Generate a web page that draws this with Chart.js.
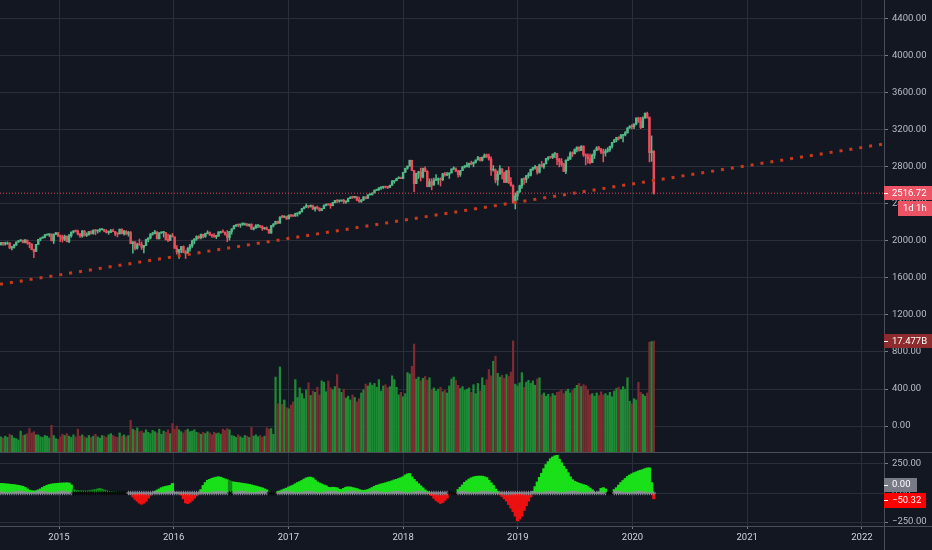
<!DOCTYPE html>
<html>
<head>
<meta charset="utf-8">
<title>Weekly index chart</title>
<script src="https://cdn.jsdelivr.net/npm/chart.js@4.4.1/dist/chart.umd.min.js"></script>
<style>
  html, body { margin: 0; padding: 0; background: #131722; overflow: hidden; }
  #wrap { position: relative; width: 932px; height: 550px; }
  #main { position: absolute; left: 0; top: 0; }
  #osc { position: absolute; left: 0; top: 452px; }
</style>
</head>
<body>
<div id="wrap">
  <canvas id="main" width="932" height="452"></canvas>
  <canvas id="osc" width="932" height="98"></canvas>
</div>
<script>
"use strict";

// weekly candles, the first one is the week of 30 June 2014
const first_week = [2014, 5, 30];
const first_open = 1960;

const closes = [
  // 2014
  1985,1968,1978,1978,1925,1931,1955,1988,2003,2008, 1985,2010,1982,1967,1906,1886,1964,2018,2031,2039,
  2064,2067,2075,2002,2070,2088,2058,
  // 2015
  2044,2019,2051,1995,2055,2097,2110,2104,2071,2053, 2108,2061,2067,2102,2081,2117,2108,2116,2122,2126,
  2107,2092,2094,2110,2101,2077,2076,2127,2079,2104, 2078,2092,1971,1989,1921,1961,1958,1931,1951,2015,
  2033,2075,2079,2099,2023,2089,2090,2092,2012,2006, 2061,2044,
  // 2016
  1922,1880,1907,1940,1880,1865,1918,1948,2000,2022, 2050,2035,2073,2048,2081,2092,2065,2057,2047,2052,
  2099,2099,2096,2071,2037,2103,2130,2162,2175,2173, 2183,2184,2184,2169,2180,2128,2139,2165,2168,2153,
  2133,2141,2126,2085,2164,2182,2213,2192,2260,2258, 2263,2239,
  // 2017
  2277,2275,2271,2295,2297,2316,2351,2367,2383,2373, 2378,2344,2363,2356,2329,2349,2384,2399,2391,2382,
  2416,2439,2432,2433,2438,2423,2425,2459,2473,2472, 2476,2441,2426,2443,2477,2461,2500,2502,2519,2549,
  2553,2575,2581,2587,2582,2579,2602,2642,2652,2675, 2683,2674,
  // 2018
  2743,2786,2810,2873,2762,2620,2732,2747,2691,2786, 2752,2588,2641,2604,2656,2670,2670,2663,2728,2713,
  2721,2735,2779,2780,2755,2718,2760,2801,2802,2819, 2840,2833,2850,2875,2902,2872,2905,2930,2914,2886,
  2767,2768,2659,2723,2781,2736,2633,2760,2633,2600, 2417,2486,
  // 2019
  2532,2596,2671,2665,2707,2708,2776,2793,2804,2743, 2822,2801,2834,2893,2907,2905,2940,2946,2881,2860,
  2826,2752,2873,2887,2950,2942,2990,3014,2977,3026, 2932,2919,2889,2847,2926,2979,3007,2992,2962,2952,
  2970,2986,3023,3067,3093,3120,3110,3141,3146,3169, 3221,3240,
  // 2020
  3235,3265,3330,3295,3226,3328,3380,3338,2954,2972, 2516.72
];

const highs = [
  1986,1984,1988,1991,1984,1943,1964,1991,2005,2012, 2010,2019,2009,1986,1971,1912,1965,2018,2034,2046,
  2071,2075,2079,2076,2077,2094,2093,
  2064,2064,2064,2057,2072,2097,2110,2119,2117,2083, 2114,2114,2089,2102,2111,2120,2126,2118,2134,2134,
  2127,2121,2109,2126,2130,2086,2088,2129,2132,2114, 2113,2104,2103,1993,1993,1976,2021,1990,1952,2020,
  2034,2080,2094,2116,2099,2089,2094,2104,2093,2076, 2067,2082,
  2044,1951,1908,1940,1947,1896,1930,1963,2009,2025, 2056,2057,2075,2073,2084,2111,2099,2075,2081,2062,
  2100,2106,2120,2096,2113,2105,2132,2169,2178,2177, 2183,2194,2193,2188,2184,2187,2151,2176,2176,2169,
  2164,2148,2152,2127,2170,2189,2214,2214,2260,2278, 2273,2268,
  2283,2280,2279,2301,2300,2319,2352,2368,2401,2383, 2390,2387,2370,2378,2358,2349,2391,2400,2403,2406,
  2418,2440,2446,2441,2442,2450,2432,2464,2478,2484, 2480,2480,2474,2448,2480,2473,2500,2509,2520,2552,
  2556,2576,2582,2588,2592,2591,2605,2657,2653,2679, 2695,2692,
  2743,2787,2810,2873,2870,2763,2732,2754,2789,2789, 2802,2761,2672,2674,2680,2718,2682,2682,2732,2742,
  2742,2737,2779,2801,2791,2764,2763,2804,2816,2848, 2842,2863,2855,2877,2916,2903,2908,2941,2940,2939,
  2909,2816,2778,2756,2815,2775,2746,2760,2800,2685, 2607,2520,
  2539,2604,2675,2682,2708,2738,2776,2795,2817,2804, 2831,2860,2836,2894,2911,2910,2940,2955,2946,2893,
  2892,2841,2876,2911,2964,2964,2996,3017,3017,3028, 3028,2943,2941,2939,2940,2985,3020,3022,3002,2993,
  2993,3008,3027,3067,3098,3121,3127,3154,3147,3183, 3226,3247,
  3258,3267,3330,3338,3337,3341,3385,3393,3340,3136, 2975
];

const lows = [
  1955,1952,1955,1965,1916,1904,1921,1952,1987,1995, 1979,1978,1964,1926,1905,1821,1886,1960,2001,2030,
  2033,2062,2049,2002,1972,2069,2046,
  1992,1988,2004,1989,1981,2041,2085,2097,2065,2039, 2040,2052,2048,2064,2073,2073,2067,2085,2097,2117,
  2099,2085,2072,2091,2100,2056,2044,2076,2077,2063, 2067,2052,1970,1867,1903,1911,1953,1908,1872,1950,
  1990,2022,2063,2076,2022,2022,2080,2042,2011,1993, 2006,2043,
  1918,1857,1812,1872,1872,1810,1865,1891,1931,1969, 2008,2022,2022,2034,2039,2076,2060,2039,2039,2025,
  2052,2085,2092,2062,1992,2009,2074,2131,2157,2155, 2147,2168,2175,2160,2157,2127,2119,2138,2145,2143,
  2114,2125,2120,2084,2084,2151,2183,2187,2192,2248, 2252,2233,
  2240,2260,2262,2266,2268,2289,2311,2347,2361,2357, 2365,2342,2322,2344,2322,2329,2349,2378,2388,2353,
  2380,2412,2415,2419,2428,2405,2407,2422,2458,2460, 2464,2437,2418,2417,2437,2454,2461,2496,2496,2520,
  2545,2547,2557,2566,2573,2566,2577,2601,2624,2650, 2676,2673,
  2683,2739,2776,2808,2759,2533,2620,2675,2648,2682, 2749,2585,2585,2553,2604,2656,2612,2594,2652,2701,
  2707,2676,2735,2770,2749,2691,2698,2760,2789,2801, 2795,2824,2802,2842,2876,2864,2864,2900,2903,2874,
  2710,2755,2628,2603,2722,2671,2631,2633,2621,2593, 2409,2346,
  2443,2524,2569,2612,2631,2681,2702,2764,2775,2722, 2734,2800,2785,2843,2874,2894,2891,2900,2826,2801,
  2805,2750,2729,2869,2880,2912,2943,2963,2972,2981, 2914,2822,2840,2834,2853,2891,2980,2982,2945,2855,
  2917,2960,2968,3002,3066,3071,3091,3111,3070,3135, 3166,3219,
  3212,3214,3255,3281,3214,3225,3327,3328,2855,2860, 2505
];

// volume in billions
const volumes = [
  2.4,2.2,2.5,2.3,2.8,2.6,2.2,2.1,1.9,3.3, 2.6,2.7,2.9,3.7,3.0,3.2,2.7,2.7,2.4,2.3,
  2.6,2.5,2.2,4.2,2.6,2.1,2.0,2.4,2.8,2.6, 2.9,2.5,2.3,2.7,2.4,3.6,2.5,2.7,2.4,2.2,
  2.6,2.3,2.5,2.8,2.4,2.2,2.6,2.5,2.3,2.7, 2.9,2.6,2.4,2.3,3.0,2.5,2.7,2.4,2.6,5.0,
  3.6,3.4,3.8,3.2,3.3,3.0,3.5,3.1,2.9,3.4, 3.2,3.0,3.6,2.8,3.3,3.1,3.5,2.9,4.5,3.6,
  4.1,3.5,3.2,3.0,3.4,3.6,3.2,3.3,3.5,3.1, 3.0,2.8,3.1,2.9,3.2,3.0,2.7,3.1,2.9,3.0,
  2.8,3.6,3.4,3.7,3.5,2.6,2.5,2.3,2.7,2.4, 2.2,2.6,2.5,2.3,3.9,2.5,2.7,2.4,2.6,2.3,
  2.5,3.8,3.6,3.7,2.8,11.8,7.6,13.4,7.5,8.2, 7.0,6.8,7.4,7.9,11.4,8.6,10.1,9.2,8.4,9.8,
  10.9,8.9,9.6,9.4,10.2,9.0,11.2,11.0,9.5,11.2, 10.1,9.8,10.3,12.2,10.0,9.4,9.9,8.5,8.8,8.2,
  9.0,8.6,7.9,8.4,9.3,9.8,10.7,10.4,10.9,10.5, 10.8,10.2,11.4,9.6,10.4,10.6,10.1,10.3,12.0,11.4,
  10.2,9.0,9.4,8.7,9.2,12.5,12.3,13.5,17.0,11.5, 11.8,11.2,11.6,11.9,11.3,11.7,9.8,10.1,9.6,9.9,
  10.2,9.5,9.7,9.3,10.4,11.5,11.8,11.3,10.5,10.0, 10.3,9.7,9.9,10.1,9.4,10.6,9.2,10.8,9.6,11.7,
  10.5,11.4,13.0,12.0,14.3,15.1,12.4,11.8,12.1,11.6, 12.2,11.9,12.6,17.5,10.7,10.4,10.9,12.5,10.2,11.0,
  11.3,10.8,11.2,10.5,11.5,11.7,9.0,9.3,8.8,9.1, 8.7,9.2,8.9,9.4,9.5,9.8,9.2,9.6,9.9,9.3,
  9.7,10.0,10.5,10.8,10.3,10.6,10.4,9.8,9.0,9.2, 8.8,9.3,8.9,9.5,9.0,9.2,8.9,9.4,8.7,9.6,
  10.0,10.2,9.8,10.3,9.9,11.7,8.0,7.6,8.4,8.2, 11.0,9.4,9.1,8.8,9.3,17.3,17.4,17.477
];

// momentum histogram (lower pane)
const momentum = [
  83,82,80,78,76,74,72,69,66,62, 58,48,36,24,20,17,20,27,35,48,
  58,66,73,77,80,82,84,85,86,87, 88,86,70,30,24,22,20,19,18,17,
  20,24,27,30,35,40,33,26,20,15, 12,10,8,7,5,5,4,3,-5,-15,
  -35,-55,-72,-88,-97,-88,-72,-45,-20,-5, 15,25,35,46,53,58,62,66,82,5,
  3,-5,-18,-50,-85,-91,-80,-65,-45,-25, -10,30,65,90,110,118,126,132,137,140,
  136,128,121,114,107,100,95,92,89,87, 84,81,78,75,70,65,60,55,50,44,
  36,27,14,4,2,-2,12,18,27,35, 42,52,60,68,80,90,98,108,120,130,
  136,137,130,112,96,86,78,70,63,50, 47,50,48,45,32,30,40,50,53,52,
  47,43,38,30,24,22,25,30,38,48, 58,66,72,78,83,88,94,99,106,113,
  118,125,132,140,155,165,168,140,118,98, 80,62,45,27,12,-8,-22,-45,-65,-78,
  -90,-82,-64,-45,-15,-3,2,10,30,50, 70,92,106,120,131,138,143,145,146,145,
  140,133,110,88,65,35,12,-12,-30,-50, -70,-100,-130,-160,-200,-240,-225,-200,-150,-110,
  -70,-35,15,55,95,135,170,210,245,270, 295,310,320,325,290,260,230,205,175,140,
  115,100,92,84,78,72,66,55,42,28, 5,3,10,40,46,35,3,-2,8,30,
  46,68,90,108,125,142,155,165,175,182, 190,196,202,210,216,217,90,-50.32
];

// weeks where the zero line shows black crosses
const squeeze_on = [[33, 57], [104, 105], [122, 125], [204, 207], [276, 278]];

// dotted trend line: [decimal year, price]
const trend_line = [[2014.4856, 1532], [2022.1927, 3049]];

const year_ticks = [2015, 2016, 2017, 2018, 2019, 2020, 2021, 2022];
const price_ticks = [0, 400, 800, 1200, 1600, 2000, 2400, 2800, 3200, 3600, 4000, 4400];
const momentum_ticks = [-250, 0, 250];
const bar_timer = "1d 1h";

// axis ranges
const x_min = 2014.4856, x_max = 2022.1927;
const price_min = -281, price_max = 4605;
const volume_max = 71.2;
const momentum_min = -284, momentum_max = 353;

const bg_color = "#131722";
const grid_color = "#2a2e39";
const axis_color = "#4a4e59";
const text_color = "#b8bbc4";
const time_color = "#d1d4dc";
const up_color = "#53b987";
const down_color = "#eb4d5c";
const font = { family: "Roboto, 'Liberation Sans', sans-serif", size: 9.5 };

Chart.defaults.font.family = font.family;
Chart.defaults.font.size = font.size;
Chart.defaults.animation = false;

function year_fraction(date) {
  const y = date.getFullYear();
  const a = new Date(y, 0, 1), b = new Date(y + 1, 0, 1);
  return y + (date - a) / (b - a);
}

const count = closes.length;
const times = closes.map((c, i) => year_fraction(new Date(first_week[0], first_week[1], first_week[2] + 7 * i)));
const opens = closes.map((c, i) => (i === 0 ? first_open : closes[i - 1]));
const is_up = closes.map((c, i) => c >= opens[i]);
const candle_colors = is_up.map((u) => (u ? up_color : down_color));
const volume_colors = is_up.map((u) => (u ? "#1f8a36" : "#7e2a30"));

function in_squeeze(i) {
  return squeeze_on.some((r) => i >= r[0] && i <= r[1]);
}

const momentum_colors = momentum.map((v, i) => {
  if (in_squeeze(i)) return v >= 0 ? "#128a1c" : "#7a1010";
  return v >= 0 ? "#19e019" : "#ec1010";
});
const cross_colors = momentum.map((v, i) => (in_squeeze(i) ? "#050505" : "#8d9099"));

function no_padding(s) {
  s.paddingTop = 0;
  s.paddingBottom = 0;
  s.paddingLeft = 0;
  s.paddingRight = 0;
}

function fmt(v) {
  return v < 0 ? "\u2212" + Math.abs(v).toFixed(2) : v.toFixed(2);
}

function draw_badge(ctx, x, y_mid, w, h, bg, text, tick) {
  ctx.save();
  ctx.fillStyle = bg;
  ctx.fillRect(x, Math.round(y_mid - h / 2), w, h);
  ctx.fillStyle = "#ffffff";
  if (tick) ctx.fillRect(x, Math.round(y_mid), 4, 1);
  ctx.font = "9.5px " + font.family;
  ctx.textBaseline = "middle";
  ctx.textAlign = "left";
  ctx.fillText(text, x + (tick ? 8 : 5), y_mid + 0.5);
  ctx.restore();
}

const background_plugin = {
  id: "background",
  beforeDraw(chart) {
    const ctx = chart.ctx;
    ctx.save();
    ctx.fillStyle = bg_color;
    ctx.fillRect(0, 0, chart.width, chart.height);
    ctx.restore();
  },
};

const main_badges = {
  id: "main_badges",
  afterDraw(chart) {
    const ctx = chart.ctx;
    const x = chart.chartArea.right;
    const last = closes[count - 1];
    const yp = chart.scales.y.getPixelForValue(last);
    draw_badge(ctx, x, yp, chart.width - x, 14, "#ec5466", last.toFixed(2), true);
    draw_badge(ctx, x + 14, yp + 15, chart.width - x - 14, 15, "#ec5466", bar_timer, false);
    const vol = volumes[count - 1];
    const yv = chart.scales.yv.getPixelForValue(vol);
    draw_badge(ctx, x, yv, chart.width - x, 14, "#8e2b2e", vol.toFixed(3) + "B", true);
  },
};

const osc_frame = {
  id: "osc_frame",
  afterDraw(chart) {
    const ctx = chart.ctx;
    const a = chart.chartArea;
    ctx.save();
    ctx.strokeStyle = axis_color;
    ctx.lineWidth = 1;
    ctx.beginPath();
    ctx.moveTo(0, 0.5);
    ctx.lineTo(chart.width, 0.5);
    ctx.moveTo(0, Math.round(a.bottom) + 0.5);
    ctx.lineTo(chart.width, Math.round(a.bottom) + 0.5);
    ctx.moveTo(Math.round(a.right) + 0.5, 0);
    ctx.lineTo(Math.round(a.right) + 0.5, chart.height);
    ctx.stroke();

    // year labels under the pane
    const xs = chart.scales.x;
    ctx.fillStyle = time_color;
    ctx.font = "9.5px " + font.family;
    ctx.textAlign = "center";
    ctx.textBaseline = "middle";
    year_ticks.forEach((y) => {
      ctx.fillText(String(y), xs.getPixelForValue(y), a.bottom + 12);
    });
    ctx.restore();

    const last = momentum[count - 1];
    const y0 = chart.scales.y.getPixelForValue(0);
    const y1 = chart.scales.y.getPixelForValue(last);
    draw_badge(ctx, a.right, y0 - 8.5, 33, 14, "#787b86", "0.00", true);
    draw_badge(ctx, a.right, y1 + 1.5, 42, 15, "#ff0000", fmt(last), true);
  },
};

// ---------- price + volume pane ----------
new Chart(document.getElementById("main"), {
  type: "bar",
  data: {
    datasets: [
      {
        type: "line",
        label: "trend",
        data: trend_line.map((p) => ({ x: p[0], y: p[1] })),
        yAxisID: "y",
        borderColor: "#c9391c",
        borderWidth: 3,
        borderDash: [3, 7],
        borderCapStyle: "butt",
        pointRadius: 0,
        order: 0,
      },
      {
        type: "line",
        label: "last price",
        data: [{ x: x_min, y: closes[count - 1] }, { x: x_max, y: closes[count - 1] }],
        yAxisID: "y",
        borderColor: "#e0485b",
        borderWidth: 1,
        borderDash: [1, 2],
        pointRadius: 0,
        order: 1,
      },
      {
        label: "bodies",
        data: times.map((t, i) => ({ x: t, y: [opens[i], closes[i]] })),
        yAxisID: "y",
        backgroundColor: candle_colors,
        borderWidth: 0,
        barThickness: 1.8,
        minBarLength: 1,
        grouped: false,
        order: 2,
      },
      {
        label: "wicks",
        data: times.map((t, i) => ({
          x: t,
          y: [Math.min(lows[i], opens[i], closes[i]), Math.max(highs[i], opens[i], closes[i])],
        })),
        yAxisID: "y",
        backgroundColor: candle_colors,
        borderWidth: 0,
        barThickness: 0.9,
        grouped: false,
        order: 3,
      },
      {
        label: "volume",
        data: times.map((t, i) => ({ x: t, y: volumes[i] })),
        yAxisID: "yv",
        backgroundColor: volume_colors,
        borderWidth: 0,
        barThickness: 1.6,
        grouped: false,
        order: 4,
      },
    ],
  },
  options: {
    responsive: false,
    layout: { padding: 0, autoPadding: false },
    plugins: { legend: { display: false }, tooltip: { enabled: false } },
    scales: {
      x: {
        type: "linear",
        min: x_min,
        max: x_max,
        offset: false,
        afterBuildTicks: (s) => { s.ticks = year_ticks.map((v) => ({ value: v })); },
        ticks: { display: false },
        grid: { color: grid_color, drawTicks: false, offset: false },
        border: { display: false },
        afterFit: (s) => { s.height = 0; no_padding(s); },
      },
      y: {
        position: "right",
        min: price_min,
        max: price_max,
        afterBuildTicks: (s) => { s.ticks = price_ticks.map((v) => ({ value: v })); },
        ticks: { color: text_color, padding: 4, callback: (v) => fmt(v) },
        grid: { color: grid_color, tickLength: 4, tickColor: "#787b86" },
        border: { color: axis_color },
        afterFit: (s) => { s.width = 48; no_padding(s); },
      },
      yv: { display: false, min: 0, max: volume_max },
    },
  },
  plugins: [background_plugin, main_badges],
});

// ---------- momentum pane ----------
new Chart(document.getElementById("osc"), {
  type: "bar",
  data: {
    datasets: [
      {
        type: "line",
        label: "zero crosses",
        data: times.map((t) => ({ x: t, y: 0 })),
        showLine: false,
        pointStyle: "cross",
        pointRadius: 2.2,
        pointBorderWidth: 1,
        pointBorderColor: cross_colors,
        pointBackgroundColor: cross_colors,
        order: 0,
      },
      {
        label: "momentum",
        data: times.map((t, i) => ({ x: t, y: momentum[i] })),
        backgroundColor: momentum_colors,
        borderWidth: 0,
        barThickness: 2.6,
        grouped: false,
        order: 1,
      },
    ],
  },
  options: {
    responsive: false,
    layout: { padding: 0, autoPadding: false },
    plugins: { legend: { display: false }, tooltip: { enabled: false } },
    scales: {
      x: {
        type: "linear",
        min: x_min,
        max: x_max,
        offset: false,
        afterBuildTicks: (s) => { s.ticks = year_ticks.map((v) => ({ value: v })); },
        ticks: { display: false },
        grid: { color: grid_color, tickLength: 3, tickColor: "#787b86", offset: false },
        border: { display: false },
        afterFit: (s) => { s.height = 24; no_padding(s); },
      },
      y: {
        position: "right",
        min: momentum_min,
        max: momentum_max,
        afterBuildTicks: (s) => { s.ticks = momentum_ticks.map((v) => ({ value: v })); },
        ticks: { color: text_color, padding: 4, callback: (v) => fmt(v) },
        grid: { color: grid_color, tickLength: 4, tickColor: "#787b86" },
        border: { color: axis_color },
        afterFit: (s) => { s.width = 48; no_padding(s); },
      },
    },
  },
  plugins: [background_plugin, osc_frame],
});
</script>
</body>
</html>
